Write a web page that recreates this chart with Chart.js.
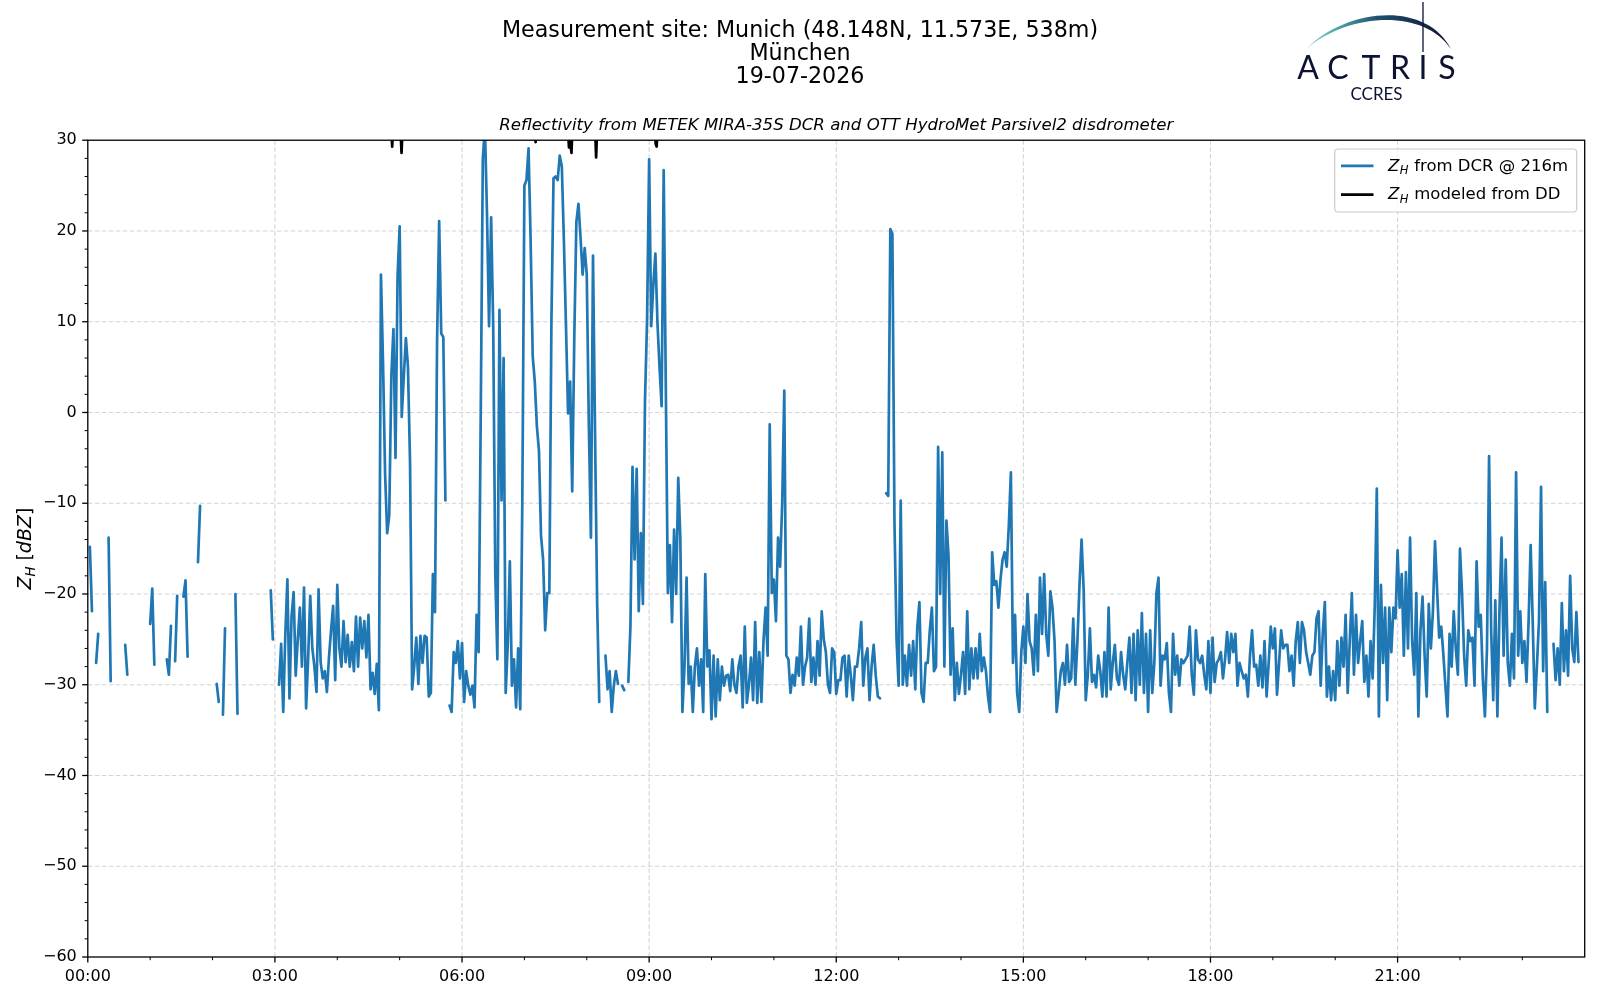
<!DOCTYPE html>
<html>
<head>
<meta charset="utf-8">
<title>Reflectivity Munich 19-07-2026</title>
<script src="https://cdn.jsdelivr.net/npm/chart.js@4.4.1/dist/chart.umd.min.js"></script>
<style>
  html, body { margin: 0; padding: 0; background: #ffffff; }
  #wrap { position: relative; width: 1600px; height: 1000px; }
  canvas { display: block; }
</style>
</head>
<body>
<div id="wrap"><canvas id="chart" width="1600" height="1000"></canvas></div>
<script>
const _ = null;

// ---- data ----
const titleLines = ['Measurement site: Munich (48.148N, 11.573E, 538m)', 'München', '19-07-2026'];
const subtitleText = 'Reflectivity from METEK MIRA-35S DCR and OTT HydroMet Parsivel2 disdrometer';
const seriesLabels = ['from DCR @ 216m', 'modeled from DD'];

// sampling step of the DCR series (minutes); value i belongs to time i*SAMPLE_MINUTES
const SAMPLE_MINUTES = 2;

// Z_H from DCR @ 216m [dBZ], one row per hour (30 samples)
const zhDCR = [
  // 00h
  _, -14.8, -21.9, _, -27.6, -24.4, _, _, _, _,
  -13.8, -29.6, _, _, _, _, _, _, -25.6, -28.9,
  _, _, _, _, _, _, _, _, _, _,
  // 01h
  -23.3, -19.4, -27.8, _, _, _, _, _, -27.2, -28.9,
  -23.5, _, -27.4, -20.2, _, _, -20.3, -18.5, -26.9, _,
  _, _, _, -16.5, -10.3, _, _, _, _, _,
  // 02h
  _, _, -29.9, -31.9, _, -33.3, -23.8, _, _, _,
  _, -20, -33.2, _, _, _, _, _, _, _,
  _, _, _, _, _, _, _, _, -19.6, -25,
  // 03h
  _, _, -30, -25.5, -33, -24.5, -18.4, -31.5, -22.5, -19.8,
  -29, -25, -21.5, -28, -19.3, -32.6, -27, -20.2, -26, -28,
  -30.8, -19.5, -27.5, -29.3, -28.5, -30.8, -27, -24, -21.3, -29.5,
  // 04h
  -19, -26, -28, -23, -27.5, -24.5, -28, -25.3, -28.5, -22.5,
  -28, -22.6, -26, -23, -27, -22.3, -30.5, -28.7, -31, -27.7,
  -32.8, 15.2, 5.5, -6.8, -13.3, -11.3, 4, 9.2, -5, 15,
  // 05h
  20.5, -0.5, 4, 8.2, 5, -5.6, -30.5, -28, -24.8, -29.9,
  -24.6, -27.6, -24.6, -24.8, -31.3, -30.9, -17.8, -22, 8, 21.1,
  8.7, 8.3, -9.7, _, -32.3, -33, -26.4, -27.6, -25.2, -29.3,
  // 06h
  -25.4, -31.9, -28.5, -30.1, -31.1, -30.1, -32.5, -22.3, -26.4, -0.3,
  27.9, 31.5, 22, 9.5, 21.5, 9.5, -17.8, -27.2, 11.3, -9.7,
  6, -30.9, -25.6, -16.4, -30.1, -27.2, -32.5, -26, -32.7, -9.7,
  // 07h
  25, 25.6, 29.1, 18.9, 6.2, 3.4, -1.5, -4.2, -13.6, -16.2,
  -24, -19.9, -19.9, 10, 25.8, 26, 25.6, 28.3, 27.1, 18.9,
  9.5, -0.1, 3.4, -8.7, 8.3, 21, 23, 19.3, 15.2, 18.1,
  // 08h
  15.2, -1.5, -13.8, 17.3, -2.7, -21.1, -31.9, _, _, -26.8,
  -30.5, -28.5, -33, -30.1, -28.5, -29.9, _, -30.1, -30.6, _,
  -29.7, -23.6, -6, -16.2, -6.2, -21.9, -13.3, -21.1, 1.3, 10.1,
  // 09h
  27.9, 9.5, 14, 17.5, 9.9, 5, 0.7, 26.7, 3.2, -19.9,
  -14.6, -23.1, -12.9, -20, -7.2, -13.8, -33, -28, -18.2, -29.9,
  -28, -33, -28, -26, -30.1, -27.2, -33, -17.8, -28, -26.2,
  // 10h
  -33.8, -26.8, -33.5, -27.2, -31.7, -28, -30.1, -29, -28.9, -30.7,
  -27.2, -30, -30.9, -28, -26.8, -32.5, -23.6, -32, -30, -27,
  -31.7, -23.1, -32, -26.4, -31.9, -25.2, -21.5, -26.8, -1.3, -19.9,
  // 11h
  -18.4, -23, -13.8, -17, -10, 2.4, -26.8, -27.2, -30.9, -28.9,
  -30.1, -27, -29, -23.6, -30, -28, -27, -22.7, -29.7, -27,
  -30, -25.2, -29, -21.9, -25, -26.4, -30, -30.9, -26, -26.4,
  // 12h
  -31, -29.5, -29.5, -27, -26.8, -31.3, -26.8, -29, -31.7, -28,
  -28, -26, -23.1, -30.1, -27, -26, -31.7, -28, -25.6, -29,
  -31.3, -31.5, _, _, -8.9, -9.2, 20.2, 19.7, -12.1, -25,
  // 13h
  -30.1, -9.7, -30, -26.8, -30.1, -25.6, -29, -25.2, -30.5, -23.6,
  -20.9, -30.9, -31.9, -27.6, -27.6, -24, -21.5, -28.5, -28, -3.8,
  -20, -4.4, -28, -11.9, -15.8, -28.9, -23.8, -31.7, -27.6, -31,
  // 14h
  -28.9, -26.4, -31, -21.9, -30.5, -26, -29.3, -26, -29.3, -24.4,
  -28.5, -27, -28.5, -31.3, -33, -15.4, -19, -18.6, -21.5, -18.4,
  -16.2, -15.4, -17, -12.5, -6.6, -27.6, -22.3, -30.9, -33, -26.4,
  // 15h
  -23.6, -27.6, -20, -25.2, -26, -28.9, -22.3, -28.5, -18.2, -24.4,
  -17.8, -24.4, -26.8, -19.7, -21.5, -25.2, -33, -30.9, -28.5, -27.6,
  -30, -25.6, -29.7, -29.3, -22.7, -30, -25.2, -19, -14, -19.5,
  // 16h
  -31.7, -28.9, -23.8, -29.7, -28.9, -30.3, -26.8, -28.5, -31.3, -26.4,
  -31.3, -21.5, -30.5, -27.6, -25.6, -29.3, -30, -26.4, -28.9, -30.5,
  -27.6, -24.8, -30.9, -24.4, -31.7, -24, -30, -22.1, -30.9, -24.4,
  // 17h
  -33, -24, -30.9, -27.6, -19.9, -18.2, -30.1, -26.8, -27.2, -25.4,
  -30.9, -33, -24.4, -28.9, -26.8, -30.1, -27.2, -27.6, -27.2, -26.8,
  -23.6, -28.9, -31.1, -24, -27.2, -27.6, -26.8, -28.9, -30.5, -25.2,
  // 18h
  -30.9, -24.8, -29.7, -27.6, -27.2, -26.4, -29.3, -27.2, -24.2, -27.6,
  -24.4, -26.4, -24.4, -30.1, -27.6, -28.5, -29.3, -28.9, -31.3, -26.8,
  -24, -28, -27.8, -30.1, -26.8, -30.3, -25.2, -31.3, -27.6, -23.6,
  // 19h
  -26, -23.8, -31.1, -27.6, -24, -26, -25.6, -25.6, -28.5, -26.8,
  -30.1, -25.2, -23.1, -27.6, -23.1, -24, -26.4, -27.6, -28.9, -26.8,
  -26.4, -22.7, -21.9, -30.1, -24.4, -20.9, -31.3, -28, -31.7, -28.5,
  // 20h
  -31.7, -25.2, -30.1, -24.8, -28, -22.3, -30.9, -25.2, -19.9, -28.9,
  -22.3, -27.6, -25.2, -23, -29.7, -26.8, -31.3, -25.2, -29.3, -21.5,
  -8.4, -33.5, -19, -27.6, -21.5, -31.7, -21.5, -26.4, -21.5, -22.7,
  // 21h
  -15.2, -21.5, -17.8, -26.8, -17.6, -26, -13.8, -25.2, -28.9, -19.9,
  -33.5, -24, -20.3, -26.8, -31.3, -21.1, -26, -21.9, -14.2, -19.5,
  -24.8, -23.6, -26.6, -30.1, -33.5, -24.4, -28, -21.9, -26, -28.9,
  // 22h
  -15, -19.9, -26.8, -30.1, -24, -25.2, -24.8, -30.1, -16.4, -23.6,
  -22.3, -29.3, -33.5, -26, -4.8, -24, -31.7, -20.7, -33.5, -21.9,
  -13.8, -26.8, -16.2, -27.6, -30.1, -24.4, -29.3, -6.6, -26.8, -21.9,
  // 23h
  -27.6, -25.2, -29.7, -23.1, -14.6, -23.1, -32.6, -28, -23, -8.2,
  -28.5, -18.7, -33, _, _, -25.5, -29.5, -26, -30, -21,
  -28.5, -24, -29, -18, -26, -27.5, -22, -27.5, _, _
];

// Z_H modeled from disdrometer: times (hours) and values (dBZ); mostly above the 30 dBZ limit
const ddHours = [4.80, 4.865, 4.88, 4.895, 4.98, 5.015, 5.03, 5.045, 5.30, 6.00, 6.60, 7.10, 7.165, 7.18, 7.195, 7.50,
                 7.700, 7.715, 7.730, 7.740, 7.755, 7.770, 7.95, 8.135, 8.15, 8.165, 8.60, 9.09, 9.105, 9.12, 9.135, 9.22];
const ddZh    = [36, 31.5, 29.3, 31.5, 35, 31, 28.6, 31, 38, 40, 41, 36, 30.8, 29.8, 30.8, 37,
                 31, 29.2, 30.3, 29.4, 28.6, 31.5, 38, 31, 28.1, 31, 37, 31, 29.6, 29.3, 31, 36];

// axes
const X_MIN = 0, X_MAX = 24, X_MAJOR_STEP = 3, X_MINOR_STEP = 1;
const Y_MIN = -60, Y_MAX = 30, Y_MAJOR_STEP = 10, Y_MINOR_STEP = 2;

const COLORS = { dcr: '#1f77b4', dd: '#000000', grid: '#d3d3d3' };

// ---- build datasets ----
const dcrPoints = zhDCR.map((v, i) => ({ x: i * SAMPLE_MINUTES / 60, y: v }));
const ddPoints = ddHours.map((h, i) => ({ x: h, y: ddZh[i] }));

const FONT = '"DejaVu Sans", "Liberation Sans", sans-serif';
Chart.defaults.font.family = FONT;
Chart.defaults.color = '#000';

function hourLabel(v) {
  if (v >= X_MAX) return '';
  const h = Math.round(v);
  return String(h).padStart(2, '0') + ':00';
}

// draws "Z" + subscript "H" + rest, returns end x
function drawZH(ctx, x, y, size, rest) {
  ctx.font = 'italic ' + size + 'px ' + FONT;
  ctx.fillText('Z', x, y);
  x += ctx.measureText('Z').width;
  const sub = size * 0.7;
  ctx.font = 'italic ' + sub + 'px ' + FONT;
  ctx.fillText('H', x + 0.5, y + size * 0.22);
  x += ctx.measureText('H').width + 1;
  ctx.font = size + 'px ' + FONT;
  ctx.fillText(rest, x, y);
  return x + ctx.measureText(rest).width;
}

const decor = {
  id: 'decor',
  beforeDatasetsDraw(chart) {
    const { ctx, chartArea: a, scales } = chart;
    const xs = scales.x, ys = scales.y;
    ctx.save();
    ctx.strokeStyle = COLORS.grid;
    ctx.lineWidth = 1.1;
    ctx.setLineDash([4.5, 2.5]);
    for (let h = X_MIN + X_MAJOR_STEP; h < X_MAX; h += X_MAJOR_STEP) {
      const px = xs.getPixelForValue(h);
      ctx.beginPath(); ctx.moveTo(px, a.top); ctx.lineTo(px, a.bottom); ctx.stroke();
    }
    for (let v = Y_MIN + Y_MAJOR_STEP; v < Y_MAX; v += Y_MAJOR_STEP) {
      const py = ys.getPixelForValue(v);
      ctx.beginPath(); ctx.moveTo(a.left, py); ctx.lineTo(a.right, py); ctx.stroke();
    }
    ctx.restore();
  },
  afterDatasetsDraw(chart) {
    const { ctx, chartArea: a, scales } = chart;
    const xs = scales.x, ys = scales.y;
    ctx.save();
    // frame
    ctx.strokeStyle = '#000';
    ctx.lineWidth = 1.3;
    ctx.setLineDash([]);
    ctx.strokeRect(a.left, a.top, a.right - a.left, a.bottom - a.top);
    // x ticks
    for (let h = X_MIN; h < X_MAX; h += X_MINOR_STEP) {
      const major = (h % X_MAJOR_STEP) === 0;
      const px = xs.getPixelForValue(h);
      ctx.lineWidth = major ? 1.3 : 1.0;
      ctx.beginPath(); ctx.moveTo(px, a.bottom); ctx.lineTo(px, a.bottom + (major ? 5.6 : 3.2)); ctx.stroke();
    }
    // y ticks
    for (let v = Y_MIN; v <= Y_MAX; v += Y_MINOR_STEP) {
      const major = (v % Y_MAJOR_STEP) === 0;
      const py = ys.getPixelForValue(v);
      ctx.lineWidth = major ? 1.3 : 1.0;
      ctx.beginPath(); ctx.moveTo(a.left, py); ctx.lineTo(a.left - (major ? 5.6 : 3.2), py); ctx.stroke();
    }
    // y-axis label  Z_H [dBZ]
    ctx.save();
    ctx.translate(30.5, (a.top + a.bottom) / 2);
    ctx.rotate(-Math.PI / 2);
    ctx.fillStyle = '#000';
    ctx.textBaseline = 'alphabetic';
    const S = 19;
    const parts = [
      { t: 'Z', f: 'italic ' + S + 'px ' + FONT, dy: 0 },
      { t: 'H', f: 'italic ' + (S * 0.7) + 'px ' + FONT, dy: S * 0.22 },
      { t: ' [', f: S + 'px ' + FONT, dy: 0 },
      { t: 'dBZ', f: 'italic ' + S + 'px ' + FONT, dy: 0 },
      { t: ']', f: S + 'px ' + FONT, dy: 0 }
    ];
    let tot = 0;
    parts.forEach(p => { ctx.font = p.f; p.w = ctx.measureText(p.t).width; tot += p.w; });
    let cx = -tot / 2;
    parts.forEach(p => { ctx.font = p.f; ctx.fillText(p.t, cx, p.dy); cx += p.w; });
    ctx.restore();

    // legend
    const lx = 1334.7, ly = 149, lw = 242, lh = 63;
    ctx.save();
    ctx.beginPath();
    ctx.roundRect(lx, ly, lw, lh, 3.5);
    ctx.fillStyle = 'rgba(255,255,255,0.8)';
    ctx.fill();
    ctx.strokeStyle = '#cccccc';
    ctx.lineWidth = 1.2;
    ctx.stroke();
    const rows = [
      { y: 165.8, color: COLORS.dcr, text: seriesLabels[0] },
      { y: 194.6, color: COLORS.dd, text: seriesLabels[1] }
    ];
    rows.forEach(r => {
      ctx.strokeStyle = r.color;
      ctx.lineWidth = 2.7;
      ctx.beginPath(); ctx.moveTo(1341, r.y); ctx.lineTo(1373.5, r.y); ctx.stroke();
      ctx.fillStyle = '#000';
      ctx.textBaseline = 'alphabetic';
      drawZH(ctx, 1388, r.y + 4.8, 16.5, ' ' + r.text);
    });
    ctx.restore();

    // ACTRIS / CCRES logo
    ctx.save();
    const grad = ctx.createLinearGradient(1306, 0, 1451, 0);
    grad.addColorStop(0, '#8fd0cc');
    grad.addColorStop(0.22, '#4fa3a8');
    grad.addColorStop(0.5, '#1f4f6e');
    grad.addColorStop(1, '#0c1233');
    ctx.beginPath();
    ctx.moveTo(1306, 49);
    ctx.bezierCurveTo(1346, 8, 1426, 0, 1451, 49);
    ctx.bezierCurveTo(1423, 7, 1347, 13.5, 1306, 49);
    ctx.closePath();
    ctx.fillStyle = grad;
    ctx.fill();
    ctx.strokeStyle = '#0c1233';
    ctx.lineWidth = 1.3;
    ctx.beginPath(); ctx.moveTo(1423, 2); ctx.lineTo(1423, 52); ctx.stroke();
    ctx.fillStyle = '#0c1233';
    ctx.textAlign = 'center';
    ctx.textBaseline = 'alphabetic';
    ctx.font = '400 32px Lato, "Open Sans", sans-serif';
    const letters = ['A', 'C', 'T', 'R', 'I', 'S'];
    const lxs = [1308, 1338, 1371, 1400, 1423, 1447];
    letters.forEach((c, i) => ctx.fillText(c, lxs[i], 78.8));
    ctx.font = '400 17px Lato, "Open Sans", sans-serif';
    ctx.fillStyle = '#0c1233';
    ctx.fillText('CCRES', 1376.5, 99.5);
    ctx.restore();

    ctx.restore();
  }
};

const chart = new Chart(document.getElementById('chart').getContext('2d'), {
  type: 'line',
  data: {
    datasets: [
      {
        label: 'Z_H ' + seriesLabels[0],
        data: dcrPoints,
        borderColor: COLORS.dcr,
        backgroundColor: COLORS.dcr,
        borderWidth: 2.7,
        pointRadius: 0,
        spanGaps: false,
        tension: 0,
        borderJoinStyle: 'round',
        borderCapStyle: 'round',
        clip: 0
      },
      {
        label: 'Z_H ' + seriesLabels[1],
        data: ddPoints,
        borderColor: COLORS.dd,
        backgroundColor: COLORS.dd,
        borderWidth: 2.7,
        pointRadius: 0,
        spanGaps: false,
        tension: 0,
        borderJoinStyle: 'round',
        borderCapStyle: 'butt',
        clip: 0
      }
    ]
  },
  options: {
    responsive: false,
    animation: false,
    devicePixelRatio: 1,
    events: [],
    layout: { padding: { left: 0, right: 0, top: 0, bottom: 0 } },
    plugins: {
      legend: { display: false },
      tooltip: { enabled: false },
      title: {
        display: true,
        text: titleLines,
        color: '#000',
        font: { size: 22.2, weight: 'normal', lineHeight: 23 / 22.2 },
        padding: { top: 20.1, bottom: 26.8 }
      },
      subtitle: {
        display: true,
        text: subtitleText,
        color: '#000',
        fullSize: false,
        font: { size: 16.6, style: 'italic', weight: 'normal', lineHeight: 1.2 },
        padding: { top: 0, bottom: 4.4 }
      }
    },
    scales: {
      x: {
        type: 'linear',
        min: X_MIN,
        max: X_MAX,
        afterFit: s => { s.height = 43; },
        grid: { display: false, drawTicks: false },
        border: { display: false },
        ticks: {
          stepSize: X_MAJOR_STEP,
          includeBounds: false,
          autoSkip: false,
          maxRotation: 0,
          padding: 10,
          color: '#000',
          font: { size: 16 },
          callback: v => hourLabel(v)
        }
      },
      y: {
        type: 'linear',
        min: Y_MIN,
        max: Y_MAX,
        afterFit: s => { s.width = 87.8; },
        grid: { display: false, drawTicks: false },
        border: { display: false },
        ticks: {
          stepSize: Y_MAJOR_STEP,
          autoSkip: false,
          padding: 11,
          color: '#000',
          font: { size: 16 },
          callback: v => (v < 0 ? '\u2212' + Math.abs(v) : String(v))
        }
      },
      // empty right-hand margin keeping the figure-centred title in place
      yMargin: {
        type: 'linear',
        position: 'right',
        display: true,
        min: Y_MIN,
        max: Y_MAX,
        afterFit: s => { s.width = 15.3; },
        grid: { display: false, drawTicks: false },
        border: { display: false },
        ticks: { display: false }
      }
    }
  },
  plugins: [decor]
});
</script>
</body>
</html>
